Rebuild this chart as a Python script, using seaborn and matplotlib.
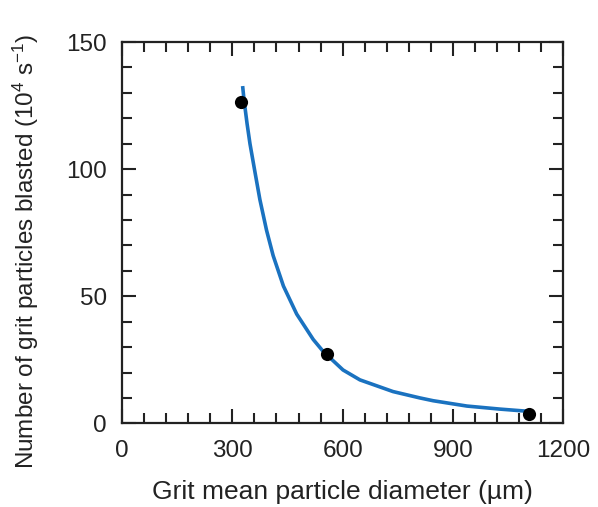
import matplotlib
matplotlib.use("Agg")
import matplotlib.pyplot as plt
from matplotlib.ticker import MultipleLocator
import seaborn as sns
import pandas as pd

# measured data points
diameter_um = [323, 557, 1107]
particles_1e4 = [126.3, 27.3, 3.7]

# fitted curve
curve_x = [328, 332, 340, 348, 362, 375, 393, 411, 439, 475, 520, 547,
           601, 647, 737, 810, 846, 938, 1028, 1090, 1102]
curve_y = [132.7, 127.0, 118.0, 110.0, 98.5, 88.0, 76.0, 66.0, 54.0, 43.0, 33.0, 28.3,
           21.0, 17.1, 12.5, 10.0, 8.9, 6.8, 5.6, 4.9, 4.8]

x_ticks = [0, 300, 600, 900, 1200]
y_ticks = [0, 50, 100, 150]

sns.set_style("ticks")
plt.rcParams['font.family'] = ['Liberation Sans', 'DejaVu Sans']
plt.rcParams['mathtext.fontset'] = 'custom'
plt.rcParams['mathtext.rm'] = 'Liberation Sans'
plt.rcParams['mathtext.it'] = 'Liberation Sans:italic'

fig = plt.figure(figsize=(5.98, 5.07), dpi=100)
ax = fig.add_axes([0.204, 0.165, 0.738, 0.752])

curve = pd.DataFrame({"x": curve_x, "y": curve_y})
pts = pd.DataFrame({"x": diameter_um, "y": particles_1e4})

sns.lineplot(data=curve, x="x", y="y", ax=ax, color="#1a72c0", linewidth=2.6,
             sort=False, estimator=None, solid_joinstyle="round", solid_capstyle="butt")
sns.scatterplot(data=pts, x="x", y="y", ax=ax, color="black", s=90,
                edgecolor="black", linewidth=0, zorder=3)

ax.set_xlim(0, 1200)
ax.set_ylim(0, 150)
ax.set_xticks(x_ticks)
ax.set_yticks(y_ticks)
ax.xaxis.set_minor_locator(MultipleLocator(60))
ax.yaxis.set_minor_locator(MultipleLocator(10))
ax.tick_params(which="both", direction="in", top=True, right=True, color="#222222")
ax.tick_params(which="major", length=10, width=1.5, labelsize=17.5, colors="#222222")
ax.tick_params(which="minor", length=7, width=1.5)
ax.tick_params(axis="x", which="major", pad=12)
ax.tick_params(axis="y", which="major", pad=11)
for sp in ax.spines.values():
    sp.set_linewidth(1.6)
    sp.set_color("#222222")

ax.set_xlabel("Grit mean particle diameter (\u00b5m)", fontsize=19, color="#222222")
ax.set_ylabel(r"Number of grit particles blasted (10$^{4}$ s$^{-1}$)", fontsize=17.5,
              color="#222222")
ax.xaxis.set_label_coords(0.5, -0.148)
ax.yaxis.set_label_coords(-0.183, 0.45)

fig.savefig("out.png", dpi=100)
